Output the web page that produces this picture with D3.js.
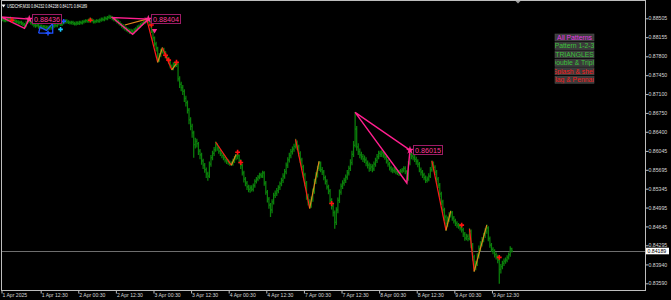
<!DOCTYPE html>
<html>
<head>
<meta charset="utf-8">
<script src="https://cdn.jsdelivr.net/npm/d3@7"></script>
<style>
  html, body { margin: 0; background: #000; }
  svg { display: block; }
</style>
</head>
<body>
<div id="chart"></div>
<script>
// USDCHF M30 bars, 1 Apr 2025 00:00 .. 9 Apr 2025 19:00
const symbolName = `USDCHF,M30`;
const lastQuote = [0.84232, 0.84238, 0.84171, 0.84189];

const closes = [
  0.8849, 0.8848, 0.8846, 0.8847, 0.8849, 0.8848, 0.8850, 0.8847, 0.8846, 0.8845,
  0.8844, 0.8842, 0.8843, 0.8841, 0.8839, 0.8837, 0.8843, 0.8848, 0.8845, 0.8842,
  0.8840, 0.8838, 0.8837, 0.8838, 0.8835, 0.8836, 0.8834, 0.8835, 0.8833, 0.8834,
  0.8832, 0.8834, 0.8833, 0.8836, 0.8838, 0.8837, 0.8840, 0.8841, 0.8839, 0.8842,
  0.8844, 0.8846, 0.8844, 0.8843, 0.8842, 0.8843, 0.8841, 0.8840, 0.8842, 0.8841,
  0.8843, 0.8842, 0.8844, 0.8845, 0.8846, 0.8845, 0.8847, 0.8848, 0.8846, 0.8844,
  0.8845, 0.8846, 0.8845, 0.8847, 0.8849, 0.8848, 0.8851, 0.8850, 0.8852, 0.8853,
  0.8852, 0.8850, 0.8849, 0.8847, 0.8845, 0.8842, 0.8839, 0.8837, 0.8834, 0.8832,
  0.8830, 0.8828, 0.8826, 0.8827, 0.8825, 0.8829, 0.8831, 0.8834, 0.8836, 0.8839,
  0.8841, 0.8843, 0.8845, 0.8846, 0.8847, 0.8838, 0.8827, 0.8814, 0.8803, 0.8795,
  0.8774, 0.8782, 0.8790, 0.8794, 0.8787, 0.8780, 0.8775, 0.8770, 0.8762, 0.8757,
  0.8766, 0.8764, 0.8766, 0.8738, 0.8728, 0.8722, 0.8715, 0.8702, 0.8694, 0.8680,
  0.8662, 0.8650, 0.8638, 0.8616, 0.8622, 0.8618, 0.8604, 0.8597, 0.8586, 0.8578,
  0.8570, 0.8562, 0.8558, 0.8580, 0.8592, 0.8600, 0.8607, 0.8616, 0.8610, 0.8604,
  0.8600, 0.8596, 0.8592, 0.8588, 0.8585, 0.8583, 0.8580, 0.8580, 0.8586, 0.8591,
  0.8595, 0.8596, 0.8585, 0.8578, 0.8564, 0.8552, 0.8545, 0.8538, 0.8533, 0.8536,
  0.8533, 0.8540, 0.8548, 0.8552, 0.8556, 0.8560, 0.8558, 0.8564, 0.8545, 0.8528,
  0.8515, 0.8504, 0.8495, 0.8510, 0.8522, 0.8526, 0.8531, 0.8537, 0.8544, 0.8550,
  0.8558, 0.8566, 0.8578, 0.8588, 0.8596, 0.8603, 0.8608, 0.8613, 0.8620, 0.8612,
  0.8600, 0.8588, 0.8575, 0.8560, 0.8545, 0.8520, 0.8510, 0.8503, 0.8515, 0.8530,
  0.8548, 0.8560, 0.8572, 0.8582, 0.8570, 0.8565, 0.8555, 0.8548, 0.8538, 0.8530,
  0.8513, 0.8502, 0.8490, 0.8472, 0.8495, 0.8513, 0.8528, 0.8539, 0.8545, 0.8550,
  0.8556, 0.8564, 0.8572, 0.8583, 0.8598, 0.8615, 0.8645, 0.8612, 0.8603, 0.8597,
  0.8594, 0.8590, 0.8588, 0.8582, 0.8578, 0.8572, 0.8575, 0.8571, 0.8580, 0.8587,
  0.8594, 0.8600, 0.8598, 0.8601, 0.8597, 0.8593, 0.8586, 0.8580, 0.8573, 0.8570,
  0.8568, 0.8570, 0.8566, 0.8565, 0.8563, 0.8567, 0.8569, 0.8572, 0.8566, 0.8553,
  0.8582, 0.8598, 0.8595, 0.8592, 0.8589, 0.8585, 0.8580, 0.8570, 0.8565, 0.8560,
  0.8555, 0.8550, 0.8552, 0.8558, 0.8570, 0.8582, 0.8574, 0.8565, 0.8552, 0.8541,
  0.8525, 0.8510, 0.8495, 0.8482, 0.8470, 0.8478, 0.8486, 0.8490, 0.8480, 0.8475,
  0.8470, 0.8467, 0.8465, 0.8462, 0.8458, 0.8450, 0.8443, 0.8446, 0.8442, 0.8456,
  0.8430, 0.8408, 0.8388, 0.8396, 0.8410, 0.8424, 0.8432, 0.8440, 0.8448, 0.8456,
  0.8462, 0.8442, 0.8430, 0.8422, 0.8418, 0.8412, 0.8408, 0.8402, 0.8385, 0.8390,
  0.8396, 0.8400, 0.8402, 0.8407, 0.8412, 0.84232, 0.84189
];

const highs = [
  0.8852, 0.8851, 0.8850, 0.8849, 0.8851, 0.8851, 0.8853, 0.8851, 0.8849, 0.8848,
  0.8847, 0.8846, 0.8845, 0.8845, 0.8843, 0.8841, 0.8845, 0.8851, 0.8850, 0.8847,
  0.8844, 0.8842, 0.8840, 0.8840, 0.8840, 0.8838, 0.8838, 0.8837, 0.8837, 0.8836,
  0.8836, 0.8836, 0.8836, 0.8838, 0.8840, 0.8840, 0.8842, 0.8843, 0.8843, 0.8844,
  0.8846, 0.8848, 0.8848, 0.8846, 0.8845, 0.8845, 0.8845, 0.8843, 0.8844, 0.8844,
  0.8845, 0.8845, 0.8846, 0.8847, 0.8848, 0.8848, 0.8849, 0.8851, 0.8850, 0.8848,
  0.8847, 0.8848, 0.8848, 0.8849, 0.8851, 0.8851, 0.8853, 0.8853, 0.8854, 0.8856,
  0.8855, 0.8854, 0.8852, 0.8851, 0.8849, 0.8847, 0.8844, 0.8841, 0.8839, 0.8836,
  0.8834, 0.8832, 0.8830, 0.8830, 0.8829, 0.8831, 0.8833, 0.8836, 0.8838, 0.8841,
  0.8843, 0.8845, 0.8847, 0.8848, 0.8849, 0.8848, 0.8840, 0.8829, 0.8816, 0.8806,
  0.8797, 0.8785, 0.8793, 0.8796, 0.8795, 0.8789, 0.8782, 0.8778, 0.8772, 0.8764,
  0.8768, 0.8767, 0.8767, 0.8767, 0.8742, 0.8732, 0.8726, 0.8718, 0.8706, 0.8697,
  0.8683, 0.8666, 0.8654, 0.8641, 0.8628, 0.8626, 0.8620, 0.8607, 0.8600, 0.8589,
  0.8581, 0.8573, 0.8565, 0.8584, 0.8596, 0.8604, 0.8611, 0.8621, 0.8618, 0.8612,
  0.8607, 0.8603, 0.8599, 0.8595, 0.8591, 0.8588, 0.8586, 0.8584, 0.8589, 0.8594,
  0.8598, 0.8598, 0.8597, 0.8588, 0.8580, 0.8567, 0.8555, 0.8548, 0.8541, 0.8540,
  0.8540, 0.8543, 0.8551, 0.8555, 0.8559, 0.8563, 0.8563, 0.8567, 0.8566, 0.8548,
  0.8531, 0.8518, 0.8507, 0.8514, 0.8526, 0.8530, 0.8535, 0.8540, 0.8547, 0.8554,
  0.8562, 0.8570, 0.8582, 0.8592, 0.8600, 0.8607, 0.8612, 0.8617, 0.8626, 0.8623,
  0.8615, 0.8603, 0.8591, 0.8578, 0.8563, 0.8548, 0.8524, 0.8514, 0.8519, 0.8534,
  0.8552, 0.8564, 0.8576, 0.8585, 0.8584, 0.8574, 0.8568, 0.8558, 0.8551, 0.8541,
  0.8533, 0.8516, 0.8505, 0.8493, 0.8499, 0.8517, 0.8532, 0.8543, 0.8549, 0.8554,
  0.8560, 0.8568, 0.8576, 0.8588, 0.8604, 0.8622, 0.8676, 0.8650, 0.8618, 0.8608,
  0.8602, 0.8598, 0.8595, 0.8592, 0.8586, 0.8582, 0.8580, 0.8579, 0.8584, 0.8591,
  0.8598, 0.8604, 0.8604, 0.8605, 0.8604, 0.8600, 0.8596, 0.8589, 0.8583, 0.8576,
  0.8573, 0.8574, 0.8573, 0.8569, 0.8568, 0.8570, 0.8572, 0.8575, 0.8575, 0.8568,
  0.8585, 0.8603, 0.8601, 0.8599, 0.8596, 0.8593, 0.8588, 0.8583, 0.8573, 0.8568,
  0.8563, 0.8558, 0.8556, 0.8562, 0.8574, 0.8586, 0.8584, 0.8577, 0.8568, 0.8555,
  0.8544, 0.8528, 0.8513, 0.8498, 0.8485, 0.8482, 0.8490, 0.8493, 0.8492, 0.8483,
  0.8478, 0.8473, 0.8470, 0.8468, 0.8465, 0.8461, 0.8453, 0.8450, 0.8449, 0.8460,
  0.8458, 0.8433, 0.8411, 0.8400, 0.8414, 0.8428, 0.8436, 0.8444, 0.8452, 0.8460,
  0.8467, 0.8464, 0.8445, 0.8433, 0.8425, 0.8421, 0.8415, 0.8411, 0.8405, 0.8394,
  0.8400, 0.8404, 0.8406, 0.8410, 0.8415, 0.8427, 0.84238
];

const lows = [
  0.8846, 0.8846, 0.8844, 0.8844, 0.8845, 0.8846, 0.8847, 0.8845, 0.8844, 0.8842,
  0.8842, 0.8840, 0.8840, 0.8839, 0.8837, 0.8833, 0.8835, 0.8841, 0.8843, 0.8840,
  0.8838, 0.8835, 0.8834, 0.8835, 0.8832, 0.8833, 0.8831, 0.8832, 0.8830, 0.8831,
  0.8829, 0.8830, 0.8830, 0.8831, 0.8834, 0.8835, 0.8835, 0.8838, 0.8837, 0.8837,
  0.8840, 0.8842, 0.8842, 0.8841, 0.8840, 0.8840, 0.8839, 0.8838, 0.8838, 0.8839,
  0.8839, 0.8840, 0.8840, 0.8842, 0.8843, 0.8843, 0.8843, 0.8845, 0.8844, 0.8842,
  0.8842, 0.8843, 0.8843, 0.8843, 0.8845, 0.8846, 0.8846, 0.8848, 0.8848, 0.8850,
  0.8850, 0.8848, 0.8846, 0.8845, 0.8842, 0.8840, 0.8837, 0.8834, 0.8831, 0.8829,
  0.8827, 0.8825, 0.8823, 0.8823, 0.8821, 0.8823, 0.8826, 0.8829, 0.8832, 0.8834,
  0.8837, 0.8839, 0.8841, 0.8843, 0.8843, 0.8836, 0.8824, 0.8810, 0.8799, 0.8790,
  0.8769, 0.8771, 0.8779, 0.8786, 0.8784, 0.8777, 0.8772, 0.8766, 0.8759, 0.8755,
  0.8755, 0.8760, 0.8761, 0.8734, 0.8722, 0.8716, 0.8709, 0.8696, 0.8688, 0.8675,
  0.8655, 0.8644, 0.8630, 0.8593, 0.8610, 0.8612, 0.8598, 0.8590, 0.8580, 0.8572,
  0.8565, 0.8555, 0.8550, 0.8555, 0.8576, 0.8588, 0.8596, 0.8604, 0.8606, 0.8600,
  0.8596, 0.8592, 0.8588, 0.8584, 0.8581, 0.8580, 0.8578, 0.8578, 0.8578, 0.8583,
  0.8588, 0.8590, 0.8582, 0.8572, 0.8560, 0.8547, 0.8540, 0.8533, 0.8529, 0.8528,
  0.8530, 0.8530, 0.8537, 0.8545, 0.8549, 0.8553, 0.8555, 0.8555, 0.8541, 0.8524,
  0.8510, 0.8498, 0.8483, 0.8490, 0.8506, 0.8518, 0.8522, 0.8527, 0.8533, 0.8540,
  0.8546, 0.8554, 0.8562, 0.8574, 0.8584, 0.8592, 0.8599, 0.8604, 0.8610, 0.8607,
  0.8595, 0.8583, 0.8570, 0.8555, 0.8540, 0.8515, 0.8504, 0.8498, 0.8500, 0.8511,
  0.8526, 0.8544, 0.8556, 0.8568, 0.8566, 0.8561, 0.8551, 0.8543, 0.8534, 0.8525,
  0.8508, 0.8497, 0.8484, 0.8461, 0.8468, 0.8490, 0.8509, 0.8524, 0.8535, 0.8541,
  0.8546, 0.8552, 0.8560, 0.8568, 0.8579, 0.8594, 0.8612, 0.8606, 0.8598, 0.8592,
  0.8589, 0.8585, 0.8583, 0.8577, 0.8573, 0.8567, 0.8568, 0.8566, 0.8568, 0.8576,
  0.8583, 0.8590, 0.8594, 0.8594, 0.8593, 0.8589, 0.8582, 0.8576, 0.8569, 0.8566,
  0.8564, 0.8565, 0.8562, 0.8561, 0.8559, 0.8560, 0.8564, 0.8566, 0.8562, 0.8545,
  0.8550, 0.8579, 0.8590, 0.8588, 0.8585, 0.8580, 0.8575, 0.8566, 0.8560, 0.8555,
  0.8551, 0.8546, 0.8547, 0.8549, 0.8555, 0.8567, 0.8570, 0.8561, 0.8548, 0.8536,
  0.8520, 0.8505, 0.8490, 0.8476, 0.8457, 0.8465, 0.8474, 0.8482, 0.8476, 0.8471,
  0.8466, 0.8463, 0.8461, 0.8458, 0.8454, 0.8446, 0.8439, 0.8440, 0.8438, 0.8440,
  0.8425, 0.8402, 0.8381, 0.8384, 0.8392, 0.8406, 0.8420, 0.8428, 0.8436, 0.8444,
  0.8452, 0.8438, 0.8426, 0.8418, 0.8414, 0.8408, 0.8404, 0.8397, 0.8359, 0.8378,
  0.8386, 0.8392, 0.8396, 0.8399, 0.8404, 0.8409, 0.84171
];

const priceTicks = [0.88505, 0.88155, 0.87800, 0.87450, 0.87100, 0.86750, 0.86400, 0.86045,
  0.85695, 0.85345, 0.84995, 0.84645, 0.84295, 0.83940, 0.83590];

// pattern triangles: [start, swing, breakout] as [bar, price]
const triangles = [
  [[0, 0.8853], [15, 0.8832], [18, 0.8849]],
  [[71, 0.8852], [84, 0.8821], [94, 0.8849]],
  [[226, 0.8676], [259, 0.8545], [261, 0.8606]]
];
const triangleLabels = [`0.88436`, `0.88404`, `0.86015`];

// zigzag legs drawn over the bars
const swingLegs = [
  [[79, 0.8838], [93, 0.8849], [100, 0.8769], [103, 0.8796], [109, 0.8755], [112, 0.8767]],
  [[137, 0.8621], [147, 0.8578], [150, 0.8598]],
  [[188, 0.8626], [197, 0.8498], [203, 0.8585]],
  [[275, 0.8586], [284, 0.8457], [287, 0.8493]],
  [[299, 0.8460], [302, 0.8381], [310, 0.8467]]
];

const flagShape = [[24, 0.8823], [25, 0.8834], [29, 0.8828], [33, 0.8841], [33, 0.8823], [24, 0.8823]];
const flagMarks = [[30, 0.8823, `#1e50ff`], [38, 0.8830, `#19c8ff`], [40, 0.8845, `#1e50ff`]];

const arrowBars = [7, 57, 96, 105, 107, 112, 151, 153, 211, 294, 318];
const arrowPrices = [0.8847, 0.8847, 0.8838, 0.8782, 0.8773, 0.8769, 0.8602, 0.8583, 0.8507, 0.8467, 0.8407];

const patternNames = [`All Patterns`, `Pattern 1-2-3`, `TRIANGLES`, `Double & Triple`, `Splash & shelf`, `Flag & Pennant`];
const patternColors = [`#e63ce6`, `#3cc23c`, `#3cc23c`, `#3cc23c`, `#f01c1c`, `#f01c1c`];

const width = 671;
const height = 300;
const plot = { left: 1.5, top: 0.5, right: 645.5, bottom: 290.5 };
const font = `"Liberation Sans", Arial, sans-serif`;

// bar times, weekend skipped
const barTimes = [];
let t = new Date(2025, 3, 1, 0, 0);
while (barTimes.length < closes.length) {
  if (t.getDay() !== 0 && t.getDay() !== 6) barTimes.push(t);
  t = d3.timeMinute.offset(t, 30);
}
// first bar, then every 00:30 / 12:30 that is not crowding the first label
const tickBars = barTimes
  .map((d, i) => (i === 0 || (i > 12 && d.getMinutes() === 30 && (d.getHours() === 0 || d.getHours() === 12))) ? i : -1)
  .filter(i => i >= 0);

const x = d3.scaleLinear().domain([0, 411]).range([1, 645]);
const y = d3.scaleLinear().domain([0.83590, 0.88505]).range([283.3, 18.3]);

const svg = d3.select(`#chart`).append(`svg`)
  .attr(`width`, width)
  .attr(`height`, height)
  .style(`background`, `#000`);

svg.append(`clipPath`).attr(`id`, `plot-clip`)
  .append(`rect`)
  .attr(`x`, plot.left).attr(`y`, plot.top)
  .attr(`width`, plot.right - plot.left).attr(`height`, plot.bottom - plot.top);

const chart = svg.append(`g`).attr(`clip-path`, `url(#plot-clip)`);

// current price line
chart.append(`line`)
  .attr(`x1`, plot.left).attr(`x2`, plot.right)
  .attr(`y1`, Math.round(y(lastQuote[3])) + 0.5).attr(`y2`, Math.round(y(lastQuote[3])) + 0.5)
  .attr(`stroke`, `#6e6e6e`);

// OHLC bars
const bars = closes.map((c, i) => ({ i, o: i ? closes[i - 1] : c, h: highs[i], l: lows[i], c }));
chart.append(`g`)
  .selectAll(`path`)
  .data(bars)
  .enter().append(`path`)
    .attr(`d`, d => {
      const X = x(d.i);
      return `M${X},${y(d.h) - 0.5}V${y(d.l) + 0.5}M${X - 1.1},${y(d.o)}H${X}M${X},${y(d.c)}H${X + 1.1}`;
    })
    .attr(`stroke`, `#0b800b`)
    .attr(`stroke-width`, 1.25)
    .attr(`fill`, `none`);

const line = d3.line().x(d => x(d[0])).y(d => y(d[1]));

// zigzag legs: down legs red, up legs orange
swingLegs.forEach(leg => {
  const segs = d3.pairs(leg);
  chart.append(`g`).selectAll(`path`)
    .data(segs)
    .enter().append(`path`)
      .attr(`d`, d => line(d))
      .attr(`stroke`, d => d[1][1] < d[0][1] ? `#ff1a1a` : `#e0851c`)
      .attr(`stroke-width`, 1.2)
      .attr(`fill`, `none`);
});

// flag pattern (blue)
chart.append(`path`)
  .attr(`d`, line(flagShape))
  .attr(`stroke`, `#1e50ff`)
  .attr(`stroke-width`, 1.3)
  .attr(`fill`, `none`);
chart.append(`g`).selectAll(`path`)
  .data(flagMarks)
  .enter().append(`path`)
    .attr(`transform`, d => `translate(${x(d[0])},${y(d[1])})`)
    .attr(`d`, d3.symbol(d3.symbolCross, 12))
    .attr(`fill`, d => d[2]);

// triangles (pink)
chart.append(`g`).selectAll(`path`)
  .data(triangles)
  .enter().append(`path`)
    .attr(`d`, d => line(d) + `Z`)
    .attr(`stroke`, `#ff1f8e`)
    .attr(`stroke-width`, 1.4)
    .attr(`fill`, `none`);

chart.append(`g`).selectAll(`path`)
  .data(triangles)
  .enter().append(`path`)
    .attr(`transform`, d => `translate(${x(d[2][0])},${y(d[2][1])})`)
    .attr(`d`, d3.symbol(d3.symbolStar, 22))
    .attr(`fill`, `#ff2a90`);

chart.append(`path`)
  .attr(`d`, d3.symbol(d3.symbolTriangle, 12))
  .attr(`transform`, `translate(${x(98)},${y(0.8828)}) rotate(180)`)
  .attr(`fill`, `#ff2a90`);

// red arrows
chart.append(`g`).selectAll(`path`)
  .data(arrowBars)
  .enter().append(`path`)
    .attr(`transform`, (d, k) => `translate(${x(d)},${y(arrowPrices[k])})`)
    .attr(`d`, d3.symbol(d3.symbolCross, 13))
    .attr(`fill`, `#ff1010`);

// triangle value labels
const tl = chart.append(`g`).selectAll(`g`)
  .data(triangles)
  .enter().append(`g`)
    .attr(`transform`, d => `translate(${Math.round(x(d[2][0])) + 3},${Math.round(y(d[2][1]))})`);
tl.append(`rect`)
  .attr(`x`, 0.5).attr(`y`, -4.5)
  .attr(`width`, 29).attr(`height`, 9)
  .attr(`fill`, `#000`)
  .attr(`stroke`, `#9c1c66`);
tl.append(`text`)
  .attr(`x`, 2).attr(`y`, 3)
  .attr(`font-family`, font)
  .attr(`font-size`, 7.2)
  .attr(`fill`, `#ff3a98`)
  .text((d, k) => triangleLabels[k]);

// frame
svg.append(`rect`)
  .attr(`x`, plot.left).attr(`y`, plot.top)
  .attr(`width`, plot.right - plot.left).attr(`height`, plot.bottom - plot.top)
  .attr(`fill`, `none`)
  .attr(`stroke`, `#bdbdbd`);

// price axis
const yAxis = svg.append(`g`)
  .attr(`transform`, `translate(${plot.right},0)`)
  .call(d3.axisRight(y).tickValues(priceTicks).tickSize(3).tickPadding(0).tickFormat(d3.format(`.5f`)));
yAxis.select(`.domain`).remove();
yAxis.selectAll(`line`).attr(`stroke`, `#bdbdbd`);
yAxis.selectAll(`text`).attr(`fill`, `#d6d6d6`).attr(`font-family`, font).attr(`font-size`, 5.2);

// time axis
const fmtFirst = d3.timeFormat(`%-d %b %Y`);
const fmtTime = d3.timeFormat(`%-d %b %H:%M`);
const xAxis = svg.append(`g`)
  .attr(`transform`, `translate(0,${plot.bottom})`)
  .call(d3.axisBottom(x).tickValues(tickBars).tickSize(3).tickPadding(0)
    .tickFormat(i => i === 0 ? fmtFirst(barTimes[i]) : fmtTime(barTimes[i])));
xAxis.select(`.domain`).remove();
xAxis.selectAll(`line`).attr(`stroke`, `#bdbdbd`).attr(`transform`, `translate(0.5,0)`);
xAxis.selectAll(`text`)
  .attr(`text-anchor`, `start`)
  .attr(`dx`, 1)
  .attr(`fill`, `#d6d6d6`)
  .attr(`font-family`, font)
  .attr(`font-size`, 5.1);

// current price box
const yLast = y(lastQuote[3]);
svg.append(`rect`)
  .attr(`x`, 646).attr(`y`, yLast - 3.3)
  .attr(`width`, 23).attr(`height`, 6.6)
  .attr(`fill`, `#fff`);
svg.append(`text`)
  .attr(`x`, 647.5).attr(`y`, yLast + 1.9)
  .attr(`font-family`, font).attr(`font-size`, 5.2)
  .attr(`fill`, `#000`)
  .text(d3.format(`.5f`)(lastQuote[3]));

// header
svg.append(`path`).attr(`d`, `M1.5,4.5H5.5L3.5,7.5Z`).attr(`fill`, `#fff`);
svg.append(`text`)
  .attr(`x`, 7).attr(`y`, 7.8)
  .attr(`font-family`, font).attr(`font-size`, 4.8)
  .attr(`fill`, `#fff`)
  .attr(`textLength`, 80).attr(`lengthAdjust`, `spacingAndGlyphs`)
  .text(`${symbolName}  ${lastQuote.map(d3.format(`.5f`)).join(` `)}`);

// chart shift marker
svg.append(`path`).attr(`d`, `M515.5,1H520.5L518,3.5Z`).attr(`fill`, `#9a9a9a`);

// pattern buttons
const btn = svg.append(`g`).selectAll(`g`)
  .data(patternNames)
  .enter().append(`g`)
    .attr(`transform`, (d, k) => `translate(555,${34 + k * 8.45})`);
btn.append(`clipPath`).attr(`id`, (d, k) => `btn-clip-${k}`)
  .append(`rect`).attr(`width`, 39).attr(`height`, 7);
btn.append(`rect`)
  .attr(`width`, 39).attr(`height`, 7)
  .attr(`fill`, `#3b3b3b`)
  .attr(`stroke`, `#4d4d4d`)
  .attr(`stroke-width`, 0.6);
btn.append(`text`)
  .attr(`clip-path`, (d, k) => `url(#btn-clip-${k})`)
  .attr(`x`, 19.5).attr(`y`, 5.8)
  .attr(`text-anchor`, `middle`)
  .attr(`font-family`, font).attr(`font-size`, 6.8)
  .attr(`fill`, (d, k) => patternColors[k])
  .text(d => d);
</script>
</body>
</html>
